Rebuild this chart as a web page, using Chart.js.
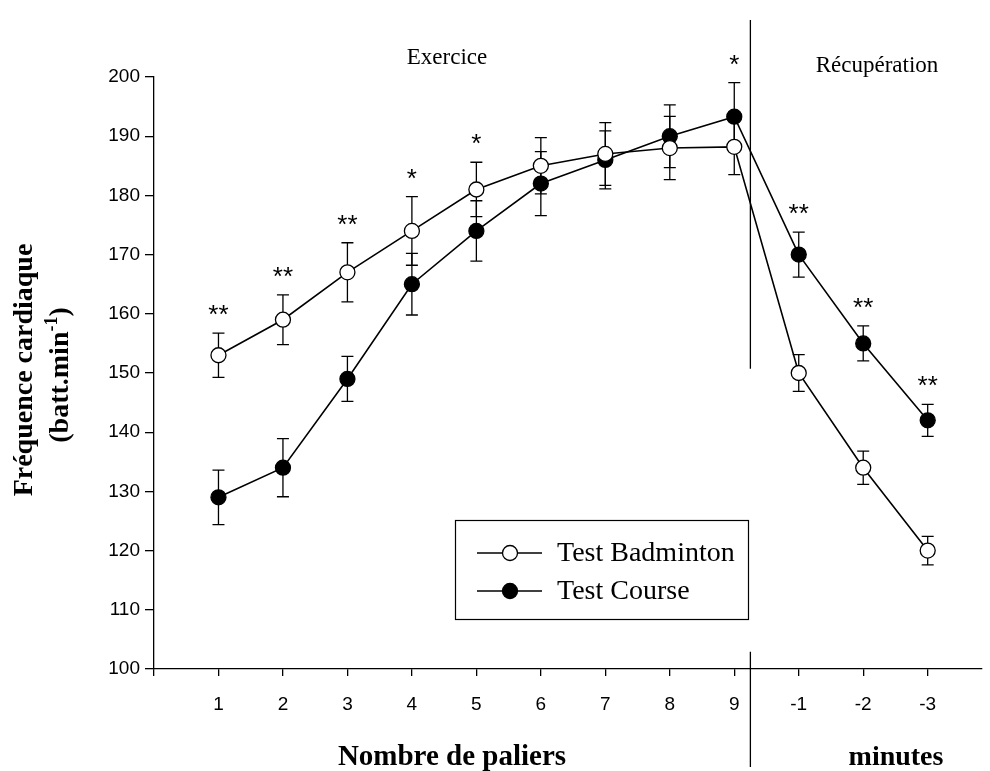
<!DOCTYPE html>
<html>
<head>
<meta charset="utf-8">
<script src="https://cdn.jsdelivr.net/npm/chart.js@4.4.1/dist/chart.umd.min.js"></script>
<style>
  body { margin: 0; background: #fff; }
  #wrap { width: 990px; height: 771px; position: relative; }
</style>
</head>
<body>
<div id="wrap"><canvas id="fc"></canvas></div>
<script>
// data
const xPositions = [1, 2, 3, 4, 5, 6, 7, 8, 9, 10, 11, 12];
const tickLabels = ['1', '2', '3', '4', '5', '6', '7', '8', '9', '-1', '-2', '-3'];
const badminton = [153, 159, 167, 174, 181, 185, 187, 188, 188.2, 150, 134, 120];
const badmintonErr = [3.75, 4.2, 5, 5.8, 4.6, 4.75, 5.3, 5.35, 4.7, 3.1, 2.8, 2.4];
const course = [129, 134, 149, 165, 174, 182, 186, 190, 193.3, 170, 155, 142];
const courseErr = [4.6, 4.9, 3.8, 5.2, 5.1, 5.4, 4.9, 5.3, 5.75, 3.8, 2.95, 2.7];
const sigLabels = ['**', '**', '**', '*', '*', '', '', '', '*', '**', '**', '**'];
const yTicks = [100, 110, 120, 130, 140, 150, 160, 170, 180, 190, 200];

const SERIF = '"Liberation Serif", "DejaVu Serif", serif';
const SANS = '"Liberation Sans", Arial, sans-serif';

function toPoints(values) {
    return xPositions.map((x, i) => ({x: x, y: values[i]}));
}

// error bars under the lines and markers
const errorBars = {
    id: 'errorBars',
    beforeDatasetsDraw(chart) {
        const c = chart.ctx;
        const xs = chart.scales.x, ys = chart.scales.y;
        const sets = [[badminton, badmintonErr], [course, courseErr]];
        c.save();
        c.strokeStyle = '#000';
        c.lineWidth = 1.3;
        sets.forEach(([vals, errs]) => {
            vals.forEach((v, i) => {
                const px = xs.getPixelForValue(xPositions[i]);
                const top = ys.getPixelForValue(v + errs[i]);
                const bot = ys.getPixelForValue(v - errs[i]);
                c.beginPath();
                c.moveTo(px, top); c.lineTo(px, bot);
                c.moveTo(px - 6, top); c.lineTo(px + 6, top);
                c.moveTo(px - 6, bot); c.lineTo(px + 6, bot);
                c.stroke();
            });
        });
        c.restore();
    }
};

// texts, divider, legend, stars
const decorations = {
    id: 'decorations',
    afterDraw(chart) {
        const c = chart.ctx;
        const xs = chart.scales.x, ys = chart.scales.y;
        const area = chart.chartArea;
        c.save();
        c.fillStyle = '#000';
        c.strokeStyle = '#000';

        // divider exercice / recuperation
        const dx = xs.getPixelForValue(9.25);
        c.lineWidth = 1.3;
        c.beginPath();
        c.moveTo(dx, area.top - 57);
        c.lineTo(dx, ys.getPixelForValue(150.7));
        c.moveTo(dx, ys.getPixelForValue(102.9));
        c.lineTo(dx, chart.height - 4);
        c.stroke();

        // significance stars
        c.font = '26px ' + SANS;
        c.textAlign = 'center';
        c.textBaseline = 'alphabetic';
        sigLabels.forEach((s, i) => {
            if (!s) return;
            const up = Math.max(badminton[i] + badmintonErr[i], course[i] + courseErr[i]);
            const px = xs.getPixelForValue(xPositions[i]);
            c.fillText(s, px, ys.getPixelForValue(up) - 10);
        });

        // section labels
        c.font = '23px ' + SERIF;
        c.textBaseline = 'middle';
        c.fillText('Exercice', 447, 58);
        c.fillText('Récupération', 877, 66);

        // x titles
        c.font = 'bold 29px ' + SERIF;
        c.textBaseline = 'alphabetic';
        c.fillText('Nombre de paliers', 452, 765);
        c.font = 'bold 28px ' + SERIF;
        c.fillText('minutes', 896, 765);

        // y title
        c.font = 'bold 28px ' + SERIF;
        c.save();
        c.translate(32, 370);
        c.rotate(-Math.PI / 2);
        c.textAlign = 'center';
        c.fillText('Fréquence cardiaque', 0, 0);
        c.restore();

        c.save();
        c.translate(68, 375);
        c.rotate(-Math.PI / 2);
        c.textAlign = 'left';
        const big = 'bold 28px ' + SERIF, small = 'bold 18px ' + SERIF;
        c.font = big; const w1 = c.measureText('(batt.min').width;
        c.font = small; const w2 = c.measureText('-1').width;
        c.font = big; const w3 = c.measureText(')').width;
        let sx = -(w1 + w2 + w3) / 2;
        c.fillText('(batt.min', sx, 0); sx += w1;
        c.font = small; c.fillText('-1', sx, -11); sx += w2;
        c.font = big; c.fillText(')', sx, 0);
        c.restore();

        // legend
        c.lineWidth = 1.2;
        c.strokeRect(455.5, 520.5, 293, 99);
        chart.data.datasets.forEach((ds, i) => {
            const ly = 553 + i * 38;
            c.lineWidth = 1.5;
            c.beginPath();
            c.moveTo(477, ly); c.lineTo(542, ly);
            c.stroke();
            c.beginPath();
            c.arc(510, ly, 7.5, 0, Math.PI * 2);
            c.fillStyle = ds.pointBackgroundColor;
            c.fill();
            c.lineWidth = 1.3;
            c.stroke();
            c.fillStyle = '#000';
            c.font = '28px ' + SERIF;
            c.textAlign = 'left';
            c.textBaseline = 'middle';
            c.fillText(ds.label, 557, ly + 1);
        });
        c.restore();
    }
};

const ctx = document.getElementById('fc');
new Chart(ctx, {
    type: 'line',
    data: {
        datasets: [{
                label: 'Test Badminton',
                data: toPoints(badminton),
                borderColor: '#000',
                borderWidth: 1.6,
                pointRadius: 7.5,
                pointBorderWidth: 1.3,
                pointBackgroundColor: '#fff',
                pointBorderColor: '#000',
                tension: 0
            }, {
                label: 'Test Course',
                data: toPoints(course),
                borderColor: '#000',
                borderWidth: 1.6,
                pointRadius: 7.5,
                pointBorderWidth: 1.3,
                pointBackgroundColor: '#000',
                pointBorderColor: '#000',
                tension: 0
            }]
    },
    options: {
        responsive: true,
        maintainAspectRatio: false,
        animation: false,
        layout: {padding: {top: 77, right: 2, left: 0, bottom: 0}},
        scales: {
            x: {
                type: 'linear',
                min: 0,
                max: 12.83,
                afterBuildTicks: (scale) => {
                    scale.ticks = [0].concat(xPositions).map(v => ({value: v}));
                },
                afterFit: (scale) => { scale.height = 102; },
                border: {display: true, color: '#000', width: 1.3},
                grid: {drawOnChartArea: false, drawTicks: true, tickLength: 7, color: '#000', lineWidth: 1.3},
                ticks: {
                    autoSkip: false,
                    maxRotation: 0,
                    padding: 17,
                    color: '#000',
                    font: {family: SANS, size: 19},
                    callback: (v) => (v >= 1 && v <= 12) ? tickLabels[v - 1] : ''
                }
            },
            y: {
                min: 100,
                max: 200,
                afterBuildTicks: (scale) => {
                    scale.ticks = yTicks.map(v => ({value: v}));
                },
                afterFit: (scale) => { scale.width = 154; },
                border: {display: true, color: '#000', width: 1.3},
                grid: {drawOnChartArea: false, drawTicks: true, tickLength: 9, color: '#000', lineWidth: 1.3},
                ticks: {
                    padding: 5,
                    color: '#000',
                    font: {family: SANS, size: 19}
                }
            }
        },
        plugins: {
            legend: {display: false},
            tooltip: {enabled: false}
        }
    },
    plugins: [errorBars, decorations]
});
</script>
</body>
</html>
